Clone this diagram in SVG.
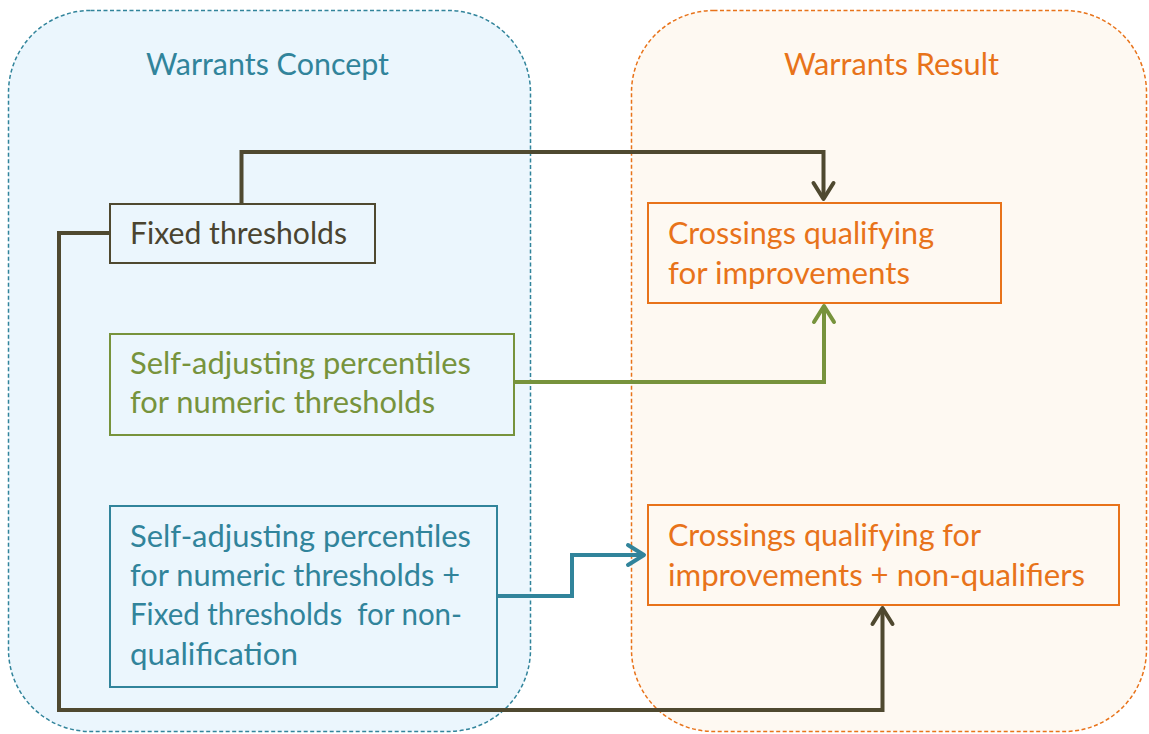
<svg xmlns="http://www.w3.org/2000/svg" width="1149" height="734" viewBox="0 0 1149 734">
<style>
.t{font-family:Lato,"Open Sans","Liberation Sans",sans-serif;font-size:31.5px}
.title{font-size:31px}
.dark{fill:#4a4430}
.grn{fill:#77933c}
.blu{fill:#31849b}
.org{fill:#e8731a}
.box{stroke-width:2}
.conn{fill:none;stroke-width:4;stroke-linejoin:miter}
.ah{fill:none;stroke-width:4;stroke-linecap:round;stroke-linejoin:round}
</style>
<rect width="1149" height="734" fill="#ffffff"/>
<g id="container-concept">
<rect x="8.5" y="10.5" width="522" height="721" rx="82" ry="82" fill="#ebf6fd" stroke="#31849b" stroke-width="1.5" stroke-dasharray="4,2.5"/>
<text class="t title blu" x="146" y="75" textLength="243" lengthAdjust="spacingAndGlyphs">Warrants Concept</text>
</g>
<g id="container-result">
<rect x="631.5" y="10.5" width="515" height="721" rx="82" ry="82" fill="#fef9f2" stroke="#e8731a" stroke-width="1.5" stroke-dasharray="4,2.5"/>
<text class="t title org" x="784" y="75" textLength="215" lengthAdjust="spacingAndGlyphs">Warrants Result</text>
</g>
<g id="connectors">
<path class="conn" stroke="#4f4930" d="M241.5,203 V152 H823.5 V199"/>
<path class="ah" stroke="#4f4930" d="M813.5,183 L823.5,199 L833.5,183"/>
<path class="conn" stroke="#4f4930" d="M109,233 H59 V710 H882.5 V609"/>
<path class="ah" stroke="#4f4930" d="M872.5,624 L882.5,608 L892.5,624"/>
<path class="conn" stroke="#77933c" d="M514,382 H824 V307"/>
<path class="ah" stroke="#77933c" d="M814,322 L824,306 L834,322"/>
<path class="conn" stroke="#31849b" d="M497,596 H572 V555 H643"/>
<path class="ah" stroke="#31849b" d="M628,545 L644,555 L628,565"/>
</g>
<g id="node-fixed">
<rect class="box" x="110" y="204" width="265" height="59" fill="#ebf6fd" stroke="#4f4930"/>
<text class="t dark" x="130" y="244" textLength="217" lengthAdjust="spacingAndGlyphs">Fixed thresholds</text>
</g>
<g id="node-selfadj">
<rect class="box" x="110" y="334" width="404" height="101" fill="#ebf6fd" stroke="#77933c"/>
<text class="t grn" x="130" y="374" textLength="341" lengthAdjust="spacingAndGlyphs">Self-adjusting percentiles</text>
<text class="t grn" x="130" y="413" textLength="305" lengthAdjust="spacingAndGlyphs">for numeric thresholds</text>
</g>
<g id="node-selfadj-fixed">
<rect class="box" x="110" y="506" width="387" height="181" fill="#ebf6fd" stroke="#31849b"/>
<text class="t blu" x="130" y="547" textLength="341" lengthAdjust="spacingAndGlyphs">Self-adjusting percentiles</text>
<text class="t blu" x="130" y="586" textLength="330" lengthAdjust="spacingAndGlyphs">for numeric thresholds +</text>
<text class="t blu" x="130" y="625" textLength="332" lengthAdjust="spacingAndGlyphs" xml:space="preserve">Fixed thresholds  for non-</text>
<text class="t blu" x="130" y="665" textLength="168" lengthAdjust="spacingAndGlyphs">qualification</text>
</g>
<g id="node-qualifying">
<rect class="box" x="648" y="203" width="353" height="100" fill="#fef9f2" stroke="#e8731a"/>
<text class="t org" x="668" y="244" textLength="266" lengthAdjust="spacingAndGlyphs">Crossings qualifying</text>
<text class="t org" x="668" y="284" textLength="242" lengthAdjust="spacingAndGlyphs">for improvements</text>
</g>
<g id="node-qualifying-non">
<rect class="box" x="648" y="505" width="471" height="100" fill="#fef9f2" stroke="#e8731a"/>
<text class="t org" x="668" y="546" textLength="313" lengthAdjust="spacingAndGlyphs">Crossings qualifying for</text>
<text class="t org" x="668" y="586" textLength="417" lengthAdjust="spacingAndGlyphs">improvements + non-qualifiers</text>
</g>
</svg>
